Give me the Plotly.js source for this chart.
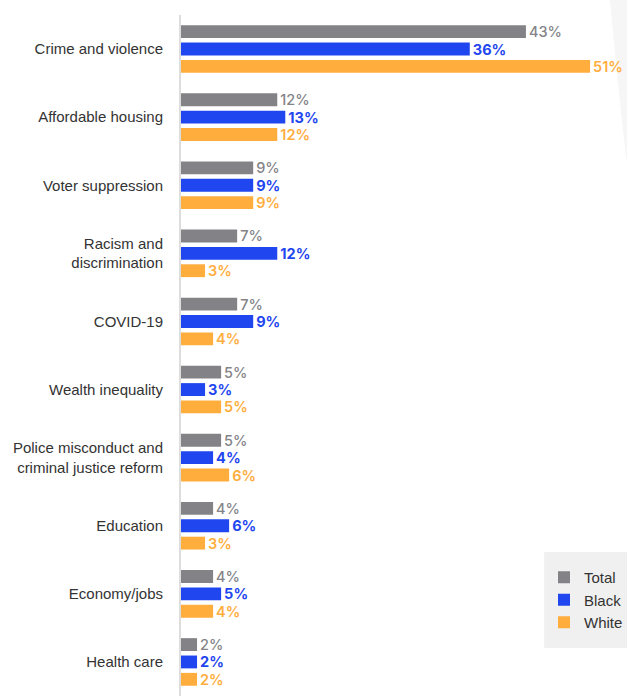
<!DOCTYPE html>
<html>
<head>
<meta charset="utf-8">
<script src="https://cdn.plot.ly/plotly-3.0.1.min.js"></script>
<style>html,body{margin:0;padding:0;background:#fff;}#chart{width:628px;height:696px;}</style>
</head>
<body>
<div id="chart"></div>
<script>
const categories = [
  "Crime and violence",
  "Affordable housing",
  "Voter suppression",
  "Racism and<br>discrimination",
  "COVID-19",
  "Wealth inequality",
  "Police misconduct and<br>criminal justice reform",
  "Education",
  "Economy/jobs",
  "Health care"
];
const seriesNames = ["Total", "Black", "White"];
const totalValues = [43, 12, 9, 7, 7, 5, 5, 4, 4, 2];
const blackValues = [36, 13, 9, 12, 9, 3, 4, 6, 5, 2];
const whiteValues = [51, 12, 9, 3, 4, 5, 6, 3, 4, 2];

const colors = ["#838387", "#1f46ef", "#ffad3d"];
const weights = [500, 700, 600];
const allValues = [totalValues, blackValues, whiteValues];

const W = 628, H = 696;
const M = {l: 181, r: 0, t: 15, b: 0};
const PW = W - M.l - M.r, PH = H - M.t - M.b;
const px = v => (v - M.l) / PW;
const py = v => 1 - (v - M.t) / PH;

const traces = allValues.map((vals, i) => ({
  type: "bar",
  orientation: "h",
  name: seriesNames[i],
  legendgroup: seriesNames[i],
  y: categories,
  x: vals,
  marker: {color: colors[i]},
  texttemplate: "%{x}%",
  textposition: "outside",
  cliponaxis: false,
  constraintext: "none",
  textfont: {family: "Inter, sans-serif", size: 14.5, color: colors[i], weight: weights[i]},
  hoverinfo: "skip"
}));

const arcPath = `M ${px(611)},${py(0)} Q ${px(619)},${py(90)} ${px(628)},${py(165)} L ${px(628)},${py(0)} Z`;

const layout = {
  width: W,
  height: H,
  margin: M,
  paper_bgcolor: "#ffffff",
  plot_bgcolor: "rgba(0,0,0,0)",
  barmode: "group",
  bargap: 0.235,
  bargroupgap: 0.26,
  font: {family: "Liberation Sans, Arial, sans-serif", color: "#333333"},
  xaxis: {
    range: [0, 55.6],
    showgrid: false,
    zeroline: false,
    showticklabels: false,
    showline: false,
    fixedrange: true
  },
  yaxis: {
    autorange: "reversed",
    showgrid: false,
    zeroline: false,
    showline: true,
    linecolor: "#dddddd",
    linewidth: 2,
    ticks: "",
    ticklabelstandoff: 13,
    tickfont: {size: 15, color: "#333333", family: "Liberation Sans, Arial, sans-serif"},
    fixedrange: true
  },
  shapes: [
    {type: "path", xref: "paper", yref: "paper", path: arcPath,
     fillcolor: "#f6f6f7", line: {width: 0}, layer: "below"},
    {type: "rect", xref: "paper", yref: "paper",
     x0: px(545), x1: px(628), y0: py(648), y1: py(552),
     fillcolor: "#f0f0f0", line: {width: 0}, layer: "below"}
  ],
  showlegend: true,
  legend: {
    x: px(545),
    xanchor: "left",
    y: py(561),
    yanchor: "top",
    bgcolor: "rgba(0,0,0,0)",
    borderwidth: 0,
    traceorder: "normal",
    tracegroupgap: 5.5,
    font: {size: 15, color: "#333333", family: "Liberation Sans, Arial, sans-serif"},
    itemwidth: 30
  }
};

Plotly.newPlot("chart", traces, layout, {displayModeBar: false, staticPlot: true});
</script>
</body>
</html>
